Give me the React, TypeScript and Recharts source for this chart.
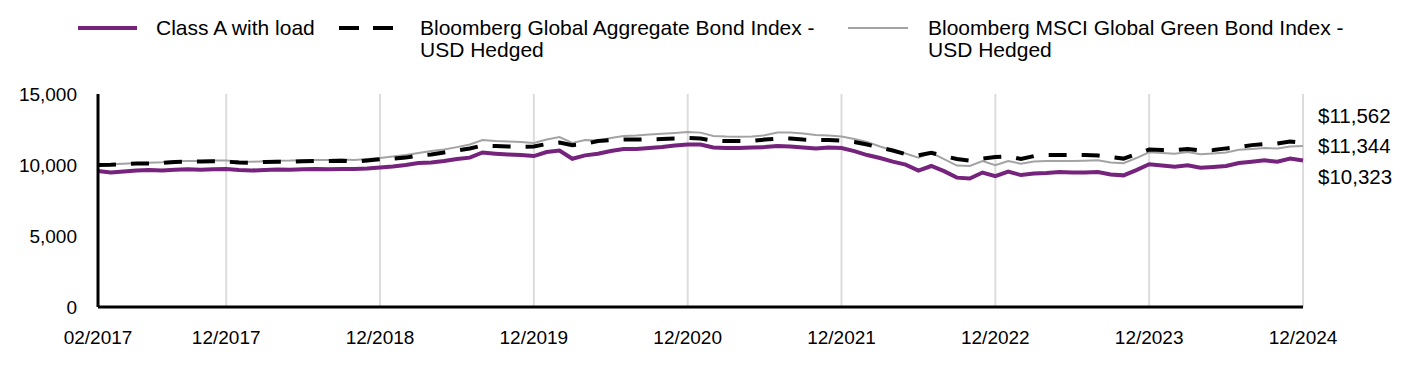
import { LineChart, Line, XAxis, YAxis, CartesianGrid, LabelList } from "recharts"

// month labels, 02/2017 .. 12/2024
const months: string[] = []
for (let i = 0; i < 95; i++) {
  const t = 2017 * 12 + 1 + i
  const m = (t % 12) + 1
  months.push(`${m < 10 ? "0" + m : m}/${Math.floor(t / 12)}`)
}

const classA = [
  9575, 9470, 9540, 9610, 9645, 9620, 9665, 9695, 9665, 9695, 9715, 9645,
  9610, 9645, 9680, 9665, 9695, 9715, 9695, 9715, 9715, 9750, 9820, 9890,
  10000, 10140, 10170, 10280, 10420, 10520, 10880, 10800, 10740, 10700, 10630, 10910,
  11020, 10440, 10680, 10790, 10980, 11120, 11120, 11190, 11260, 11370, 11440, 11440,
  11230, 11190, 11190, 11230, 11260, 11330, 11300, 11230, 11160, 11230, 11190, 10980,
  10700, 10490, 10240, 10030, 9610, 9930, 9570, 9110, 9050, 9470, 9220, 9540,
  9290, 9400, 9430, 9500, 9470, 9470, 9500, 9330, 9270, 9640, 10050, 9960,
  9880, 9980, 9810, 9860, 9930, 10140, 10230, 10330, 10230, 10450, 10323,
]

const aggregate = [
  10000, 10020, 10070, 10100, 10100, 10140, 10210, 10240, 10240, 10260, 10240, 10170,
  10160, 10210, 10230, 10230, 10260, 10280, 10280, 10300, 10240, 10310, 10400, 10450,
  10520, 10670, 10740, 10880, 11020, 11160, 11370, 11330, 11300, 11290, 11300, 11480,
  11580, 11400, 11480, 11690, 11760, 11790, 11790, 11810, 11830, 11860, 11900, 11860,
  11720, 11690, 11690, 11690, 11790, 11860, 11860, 11790, 11760, 11760, 11720, 11620,
  11440, 11230, 11020, 10770, 10680, 10860, 10630, 10420, 10310, 10450, 10560, 10600,
  10420, 10630, 10700, 10700, 10700, 10700, 10670, 10560, 10450, 10770, 11090, 11050,
  11050, 11120, 11020, 11050, 11170, 11260, 11400, 11480, 11510, 11650, 11562,
]

const green = [
  10000, 10050, 10090, 10140, 10160, 10190, 10260, 10290, 10280, 10310, 10320, 10250,
  10230, 10270, 10300, 10310, 10340, 10360, 10350, 10380, 10360, 10420, 10490, 10600,
  10700, 10840, 10980, 11090, 11260, 11450, 11760, 11690, 11650, 11620, 11550, 11790,
  11970, 11550, 11760, 11720, 11900, 12040, 12070, 12140, 12200, 12250, 12320, 12280,
  12040, 12000, 11990, 12000, 12090, 12280, 12280, 12210, 12110, 12070, 12000, 11830,
  11620, 11300, 11020, 10810, 10520, 10860, 10420, 9960, 9930, 10280, 9980, 10280,
  10090, 10240, 10280, 10280, 10280, 10300, 10330, 10170, 10120, 10490, 10890, 10840,
  10790, 10910, 10750, 10810, 10880, 11070, 11120, 11190, 11160, 11310, 11344,
]

const xTicks = ["02/2017", "12/2017", "12/2018", "12/2019", "12/2020", "12/2021", "12/2022", "12/2023", "12/2024"]
const yTicks = [0, 5000, 10000, 15000]

const data = months.map((month, i) => ({
  month,
  classA: classA[i],
  aggregate: aggregate[i],
  green: green[i],
}))

const PURPLE = "#76237D"
const GRAY = "#a3a3a3"
const FONT = "'Liberation Sans', Arial, sans-serif"
const LAST = months.length - 1

const endLabel = (dy: number) => (props: any) => {
  if (props.index !== LAST) return null
  const x = props.x ?? props.viewBox?.x
  const y = props.y ?? props.viewBox?.y
  return (
    <text x={x + 15} y={y + dy} dominantBaseline="central" fontSize={20.5} fill="#000" fontFamily={FONT}>
      {"$" + Number(props.value).toLocaleString("en-US")}
    </text>
  )
}

function ChartLegend() {
  const text = { position: "absolute" as const, top: 17, fontSize: 21, lineHeight: "22px", color: "#000" }
  return (
    <div style={{ position: "absolute", left: 0, top: 0, width: 1416, height: 70 }}>
      <svg style={{ position: "absolute", left: 78, top: 18 }} width={60} height={20}>
        <line x1={0} y1={10} x2={59} y2={10} stroke={PURPLE} strokeWidth={4} />
      </svg>
      <div style={{ ...text, left: 156 }}>Class A with load</div>
      <svg style={{ position: "absolute", left: 339, top: 18 }} width={56} height={20}>
        <line x1={0} y1={10} x2={54} y2={10} stroke="#000" strokeWidth={4} strokeDasharray="20 14" />
      </svg>
      <div style={{ ...text, left: 420, width: 410 }}>Bloomberg Global Aggregate Bond Index - USD Hedged</div>
      <svg style={{ position: "absolute", left: 848, top: 18 }} width={62} height={20}>
        <line x1={0} y1={10} x2={60} y2={10} stroke={GRAY} strokeWidth={2} />
      </svg>
      <div style={{ ...text, left: 928, width: 440 }}>Bloomberg MSCI Global Green Bond Index - USD Hedged</div>
    </div>
  )
}

export default function App() {
  return (
    <div style={{ position: "absolute", left: 0, top: 0, width: 1416, height: 372, background: "#fff", fontFamily: FONT }}>
      <ChartLegend />
      <LineChart width={1416} height={372} data={data} margin={{ top: 94, right: 113, bottom: 0, left: 0 }}>
        <CartesianGrid horizontal={false} stroke="#dcdcdc" strokeWidth={2} />
        <XAxis
          dataKey="month"
          scale="point"
          padding={{ left: 0, right: 0 }}
          ticks={xTicks}
          interval={0}
          tickLine={false}
          axisLine={{ stroke: "#000", strokeWidth: 3 }}
          height={65}
          tickMargin={18}
          tick={{ fill: "#000", fontSize: 19, fontFamily: FONT }}
        />
        <YAxis
          domain={[0, 15000]}
          ticks={yTicks}
          width={98}
          tickLine={false}
          axisLine={{ stroke: "#000", strokeWidth: 3 }}
          tickMargin={15}
          tick={{ fill: "#000", fontSize: 19, fontFamily: FONT }}
          tickFormatter={(v: number) => v.toLocaleString("en-US")}
        />
        <Line dataKey="green" stroke={GRAY} strokeWidth={2} dot={false} isAnimationActive={false}>
          <LabelList dataKey="green" content={endLabel(0)} />
        </Line>
        <Line dataKey="aggregate" stroke="#000" strokeWidth={4} strokeDasharray="18 15" dot={false} isAnimationActive={false}>
          <LabelList dataKey="aggregate" content={endLabel(-27)} />
        </Line>
        <Line dataKey="classA" stroke={PURPLE} strokeWidth={4} dot={false} isAnimationActive={false}>
          <LabelList dataKey="classA" content={endLabel(16)} />
        </Line>
      </LineChart>
    </div>
  )
}
